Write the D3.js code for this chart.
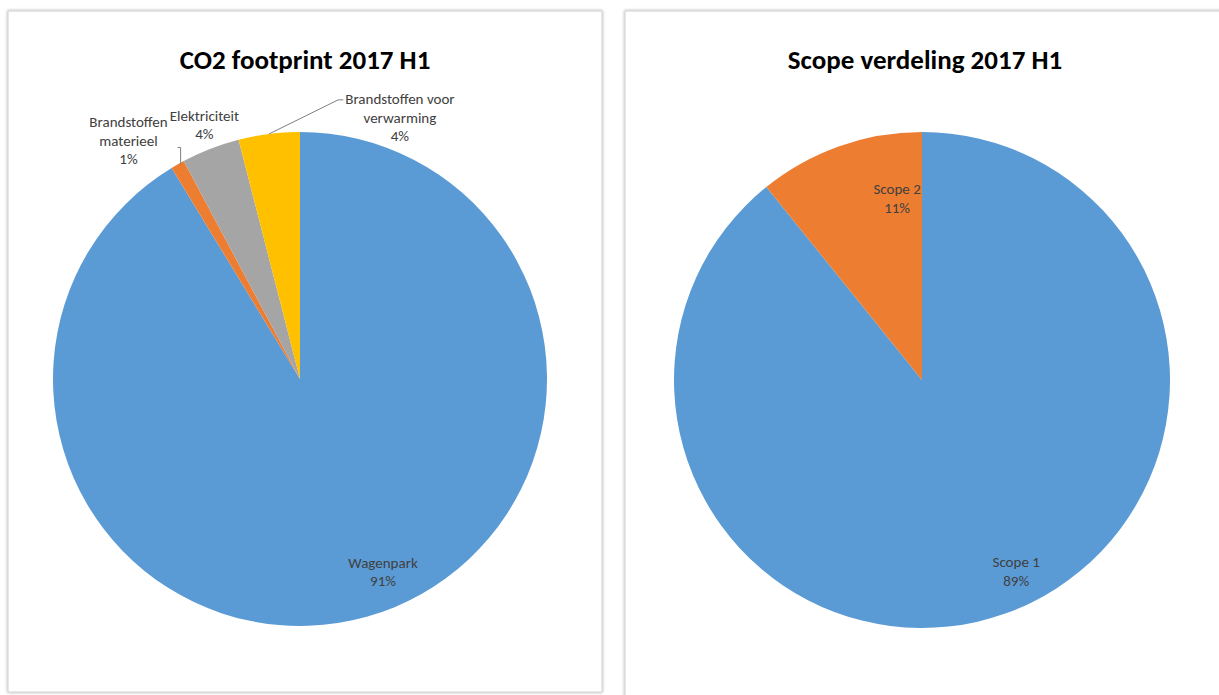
<!DOCTYPE html>
<html>
<head>
<meta charset="utf-8">
<script src="https://cdn.jsdelivr.net/npm/d3@7"></script>
<style>
  body { margin: 0; background: #fff; }
  svg { display: block; font-family: Calibri, Carlito, Lato, "Noto Sans", sans-serif; }
</style>
</head>
<body>
<script>
// Chart data.
const footprintCategories = ["Wagenpark", "Brandstoffen materieel", "Elektriciteit", "Brandstoffen voor verwarming"];
const footprintValues = [91.3, 0.9, 3.8, 4.0];
const footprintLabels = [["Wagenpark", "91%"], ["Brandstoffen", "materieel", "1%"], ["Elektriciteit", "4%"], ["Brandstoffen voor", "verwarming", "4%"]];

const scopeCategories = ["Scope 1", "Scope 2"];
const scopeValues = [89.2, 10.8];
const scopeLabels = [["Scope 1", "89%"], ["Scope 2", "11%"]];

const width = 1219;
const height = 695;

const svg = d3
  .select("body")
  .append("svg")
  .attr("width", width)
  .attr("height", height)
  .attr("viewBox", [0, 0, width, height]);

// soft shadow around the chart frames
const defs = svg.append("defs");
const shadow = defs.append("filter").attr("id", "shadow").attr("x", "-5%").attr("y", "-5%").attr("width", "110%").attr("height", "110%");
shadow.append("feGaussianBlur").attr("in", "SourceAlpha").attr("stdDeviation", 1.5);
shadow.append("feOffset").attr("dx", 0).attr("dy", 0).attr("result", "blur");
shadow.append("feFlood").attr("flood-color", "#000").attr("flood-opacity", 0.35);
shadow.append("feComposite").attr("in2", "blur").attr("operator", "in");
const merge = shadow.append("feMerge");
merge.append("feMergeNode");
merge.append("feMergeNode").attr("in", "SourceGraphic");

const colors = ["#5B9BD5", "#ED7D31", "#A5A5A5", "#FFC000"];

function pieChart(opts) {
  const { frame, title, titleY, cx, cy, radius, categories, values, labels, labelPos, leaders } = opts;

  const g = svg.append("g");

  g.append("rect")
    .attr("x", frame[0])
    .attr("y", frame[1])
    .attr("width", frame[2])
    .attr("height", frame[3])
    .attr("fill", "#fff")
    .attr("stroke", "#d0d0d0")
    .attr("stroke-width", 1)
    .attr("filter", "url(#shadow)");

  g.append("text")
    .attr("x", frame[0] + frame[2] / 2)
    .attr("y", titleY)
    .attr("text-anchor", "middle")
    .attr("font-size", 27)
    .attr("font-weight", "bold")
    .attr("fill", "#000")
    .text(title);

  const color = d3.scaleOrdinal(categories, colors);
  const pie = d3.pie().sort(null).value((d) => d.value);
  const arc = d3.arc().innerRadius(0).outerRadius(radius);
  const data = pie(categories.map((c, i) => ({ name: c, value: values[i], label: labels[i] })));

  const plot = g.append("g").attr("transform", `translate(${cx},${cy})`);

  plot.selectAll("path")
    .data(data)
    .join("path")
    .attr("fill", (d) => color(d.data.name))
    .attr("d", arc);

  const lineH = 18.5;
  data.forEach((d, i) => {
    const [deg, rf] = labelPos[i];
    const a = (deg * Math.PI) / 180;
    const lx = Math.sin(a) * radius * rf;
    const ly = -Math.cos(a) * radius * rf;
    const lines = d.data.label;
    const top = ly - ((lines.length - 1) * lineH) / 2;
    const t = plot.append("text")
      .attr("text-anchor", "middle")
      .attr("font-size", 15)
      .attr("fill", "#404040");
    lines.forEach((s, k) => {
      t.append("tspan")
        .attr("x", lx)
        .attr("y", top + k * lineH)
        .attr("dy", "0.35em")
        .text(s);
    });

    const leader = leaders[i];
    if (leader) {
      const mid = (d.startAngle + d.endAngle) / 2;
      const px = Math.sin(mid) * radius;
      const py = -Math.cos(mid) * radius;
      let pts;
      if (leader === "right") {
        // slanted line to the left edge of the first text line
        const w = t.select("tspan").node().getComputedTextLength();
        const ex = lx - w / 2 - 2;
        const ey = top + 1;
        pts = [[px, py], [ex - 5, ey], [ex, ey]];
      } else {
        const ey = py - 17;
        pts = [[px + 3, py], [px + 3, ey], [px, ey]];
      }
      plot.append("path")
        .attr("d", d3.line()(pts))
        .attr("fill", "none")
        .attr("stroke", "#7f7f7f")
        .attr("stroke-width", 1);
    }
  });
}

pieChart({
  frame: [8, 11, 594, 681],
  title: "CO2 footprint 2017 H1",
  titleY: 69,
  cx: 300,
  cy: 379,
  radius: 247,
  categories: footprintCategories,
  values: footprintValues,
  labels: footprintLabels,
  labelPos: [[156.7, 0.85], [324.3, 1.19], [339.4, 1.1], [20.9, 1.134]],
  leaders: [null, "up", null, "right"]
});

pieChart({
  frame: [625, 11, 600, 690],
  title: "Scope verdeling 2017 H1",
  titleY: 69,
  cx: 922,
  cy: 380,
  radius: 248,
  categories: scopeCategories,
  values: scopeValues,
  labels: scopeLabels,
  labelPos: [[153.8, 0.86], [352.2, 0.74]],
  leaders: [null, null]
});
</script>
</body>
</html>
